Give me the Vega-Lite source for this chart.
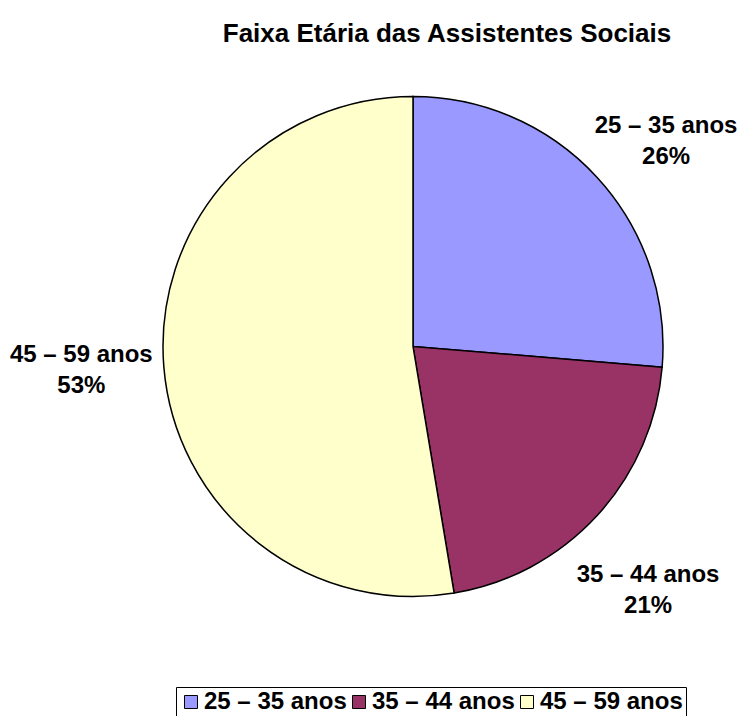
{
  "$schema": "https://vega.github.io/schema/vega-lite/v6.json",
  "autosize": "none",
  "width": 662,
  "height": 533,
  "padding": {"left": 82, "top": 80, "right": 0, "bottom": 103},
  "background": "white",
  "config": {"view": {"stroke": null}, "font": "Liberation Sans"},
  "title": {
    "text": "Faixa Etária das Assistentes Sociais",
    "font": "Liberation Sans",
    "fontSize": 26,
    "fontWeight": "bold",
    "color": "black",
    "anchor": "middle",
    "baseline": "alphabetic",
    "offset": 12,
    "dx": 34
  },
  "data": {
    "values": [
      {"faixa": "25 – 35 anos", "n": 5, "rotulo": "25 – 35 anos|26%"},
      {"faixa": "35 – 44 anos", "n": 4, "rotulo": "35 – 44 anos|21%"},
      {"faixa": "45 – 59 anos", "n": 10, "rotulo": "45 – 59 anos|53%"}
    ]
  },
  "encoding": {
    "theta": {"field": "n", "type": "quantitative", "stack": true},
    "color": {
      "field": "faixa",
      "type": "nominal",
      "scale": {"domain": ["25 – 35 anos", "35 – 44 anos", "45 – 59 anos"], "range": ["#9999FF", "#993366", "#FFFFCC"]},
      "legend": {
        "title": null,
        "orient": "none",
        "direction": "horizontal",
        "legendX": 94,
        "legendY": 607,
        "padding": 3,
        "strokeColor": "black",
        "fillColor": "white",
        "symbolType": "square",
        "symbolSize": 169,
        "symbolStrokeColor": "black",
        "symbolStrokeWidth": 1,
        "symbolOpacity": 1,
        "labelFont": "Liberation Sans",
        "labelFontSize": 24,
        "labelFontWeight": "bold",
        "labelColor": "black",
        "labelOffset": 1,
        "columnPadding": -3,
        "labelLimit": 300
      }
    }
  },
  "layer": [
    {
      "mark": {"type": "arc", "outerRadius": 250, "stroke": "black", "strokeWidth": 1.5}
    },
    {
      "mark": {
        "type": "text",
        "radius": 332,
        "thetaOffset": 0.04,
        "dy": -6,
        "font": "Liberation Sans",
        "fontSize": 24,
        "fontWeight": "bold",
        "align": "center",
        "baseline": "middle",
        "lineBreak": "|",
        "lineHeight": 31
      },
      "encoding": {
        "text": {"field": "rotulo", "type": "nominal"},
        "color": {"value": "black"}
      }
    }
  ]
}
